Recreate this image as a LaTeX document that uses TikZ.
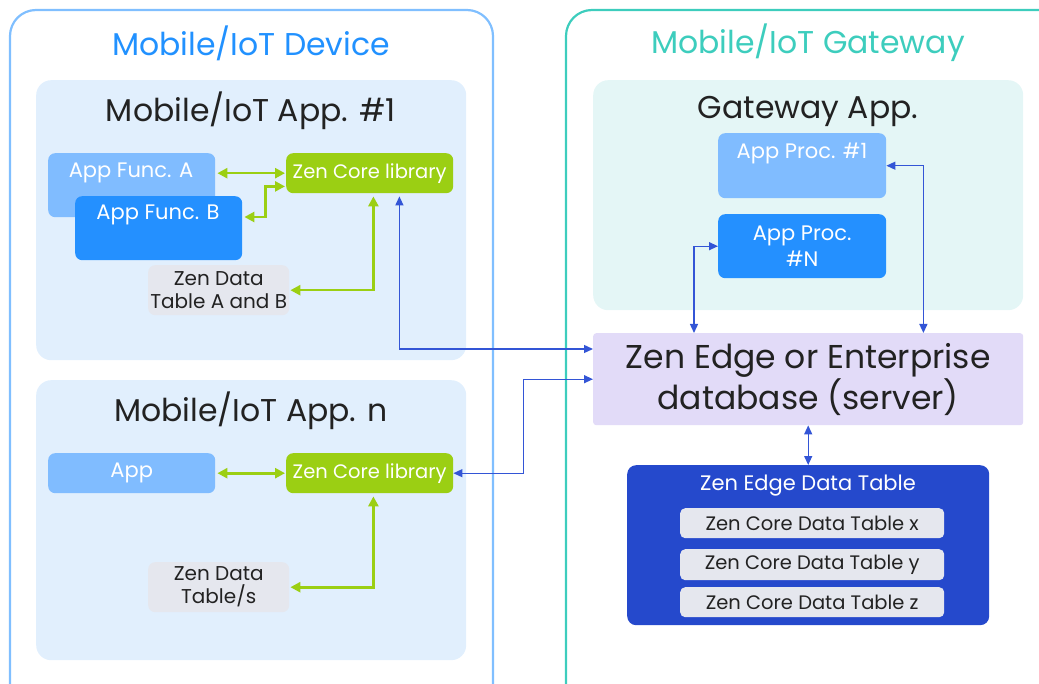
\documentclass[tikz,border=0pt]{standalone}
\usepackage{fontspec}
\setmainfont{Poppins}
\usetikzlibrary{arrows.meta}
\definecolor{devborder}{HTML}{80BFFF}
\definecolor{devtitle}{HTML}{2191FF}
\definecolor{gwborder}{HTML}{3DCDBD}
\definecolor{panelblue}{HTML}{E1EFFD}
\definecolor{panelteal}{HTML}{E4F6F6}
\definecolor{lightbox}{HTML}{80BCFF}
\definecolor{darkbox}{HTML}{2490FF}
\definecolor{zgreen}{HTML}{9BCF13}
\definecolor{zgray}{HTML}{E5E7EE}
\definecolor{lavender}{HTML}{E2DBF8}
\definecolor{edgeblue}{HTML}{2549CC}
\definecolor{arrowblue}{HTML}{3355D6}
\definecolor{txt}{HTML}{222222}
\begin{document}
\begin{tikzpicture}[x=1pt,y=-1pt,
  bigt/.style={font=\fontsize{31.5}{36}\selectfont},
  midt/.style={font=\fontsize{21}{26}\selectfont},
  libt/.style={font=\fontsize{19.5}{24}\selectfont},
  smt/.style={font=\fontsize{20}{23}\selectfont},
  rowt/.style={font=\fontsize{19.5}{24}\selectfont},
  outer/.style={draw, line width=2.2pt, rounded corners=26pt},
  panel/.style={rounded corners=15pt, inner sep=0pt, anchor=north west},
  ubox/.style={rounded corners=7pt, inner sep=0pt, anchor=north west},
  garrow/.style={draw=zgreen, line width=2.6pt, {Triangle[length=10pt,width=10pt]}-{Triangle[length=10pt,width=10pt]}},
  barrow/.style={draw=arrowblue, line width=1.3pt, {Triangle[length=9pt,width=8pt]}-{Triangle[length=9pt,width=8pt]}}
]
\useasboundingbox (0,0) rectangle (1039,684);
\clip (0,0) rectangle (1039,684);
% outer frames
\draw[outer, draw=devborder] (10,720) -- (10,10) -- (493,10) -- (493,720);
\draw[outer, draw=gwborder] (566,720) -- (566,10) -- (1080,10);
\node[bigt, text=devtitle] (devt) at (251,43) {Mobile/IoT Device};
\node[bigt, text=gwborder] (gwt) at (808,43) {Mobile/IoT Gateway};

% panels
\node[panel, fill=panelblue, minimum width=430, minimum height=280] (p1) at (36,80) {};
\node[panel, fill=panelblue, minimum width=430, minimum height=280] (pn) at (36,380) {};
\node[panel, fill=panelteal, minimum width=430, minimum height=230] (pg) at (593,80) {};
\node[bigt, text=txt] (p1t) at (251,111) {Mobile/IoT App. \#1};
\node[bigt, text=txt] (pnt) at (251,411) {Mobile/IoT App. n};
\node[bigt, text=txt] (pgt) at (808,111) {Gateway App.};

% App #1
\node[ubox, fill=lightbox, minimum width=167, minimum height=64] (fa) at (48,153) {};
\node[midt, text=white] (fat) at (131,173) {App Func. A};
\node[ubox, fill=darkbox, minimum width=167, minimum height=64] (fb) at (75,196) {};
\node[midt, text=white] (fbt) at (158,215) {App Func. B};
\node[ubox, fill=zgreen, minimum width=167, minimum height=40, text=white, libt] (zc1) at (286,153) {Zen Core library};
\node[ubox, fill=zgray, minimum width=141, minimum height=50, text=txt, smt, align=center] (dt1) at (148,265) {Zen Data\\Table A and B};

% App n
\node[ubox, fill=lightbox, minimum width=167, minimum height=40, text=white, midt] (app) at (48,453) {App};
\node[ubox, fill=zgreen, minimum width=167, minimum height=40, text=white, libt] (zcn) at (286,453) {Zen Core library};
\node[ubox, fill=zgray, minimum width=141, minimum height=50, text=txt, smt, align=center] (dtn) at (148,562) {Zen Data\\Table/s};

% Gateway
\node[ubox, fill=lightbox, minimum width=168, minimum height=65] (ap1) at (718,133) {};
\node[midt, text=white] (ap1t) at (802,153) {App Proc. \#1};
\node[ubox, fill=darkbox, minimum width=168, minimum height=64, text=white, midt, align=center] (apn) at (718,214) {App Proc.\\\#N};
\node[ubox, rounded corners=3pt, fill=lavender, minimum width=430, minimum height=92, text=txt, font=\fontsize{33}{38}\selectfont, align=center] (db) at (593,333) {Zen Edge or Enterprise\\database (server)};
\node[ubox, rounded corners=9pt, fill=edgeblue, minimum width=362, minimum height=160] (edge) at (627,465) {};
\node[midt, text=white] (edget) at (808,486) {Zen Edge Data Table};
\node[ubox, rounded corners=5pt, fill=zgray, minimum width=264, minimum height=30, text=txt, rowt] (tx) at (680,508) {Zen Core Data Table x};
\node[ubox, rounded corners=5pt, fill=zgray, minimum width=264, minimum height=31, text=txt, rowt] (ty) at (680,549) {Zen Core Data Table y};
\node[ubox, rounded corners=5pt, fill=zgray, minimum width=264, minimum height=30, text=txt, rowt] (tz) at (680,587) {Zen Core Data Table z};

% green connectors
\draw[garrow, shorten <=2pt, shorten >=1pt] (fa.east |- zc1.west) -- (zc1.west);
\draw[garrow, shorten <=2pt, shorten >=1pt] ([yshift=-21pt]fb.north east) -- ++(23,0) |- ([yshift=7pt]zc1.south west);
\draw[garrow, shorten <=1pt, shorten >=3pt] (dt1.east) -| ([xshift=-80pt]zc1.south east);
\draw[garrow, shorten <=2pt, shorten >=1pt] (app.east) -- (zcn.west);
\draw[garrow, shorten <=1pt, shorten >=3pt] (dtn.east) -| ([xshift=-80pt]zcn.south east);

% blue connectors
\draw[barrow, shorten <=3pt] ([xshift=-54pt]zc1.south east) |- ([yshift=-16pt]db.north west);
\draw[barrow] (zcn.east) -- ++(70,0) |- (db.west);
\draw[barrow] (ap1.east) -| ([xshift=-100pt]db.north east);
\draw[barrow] (apn.west) -| ([xshift=101pt]db.north west);
\draw[barrow] (db.south) -- (edge.north);
\end{tikzpicture}
\end{document}
